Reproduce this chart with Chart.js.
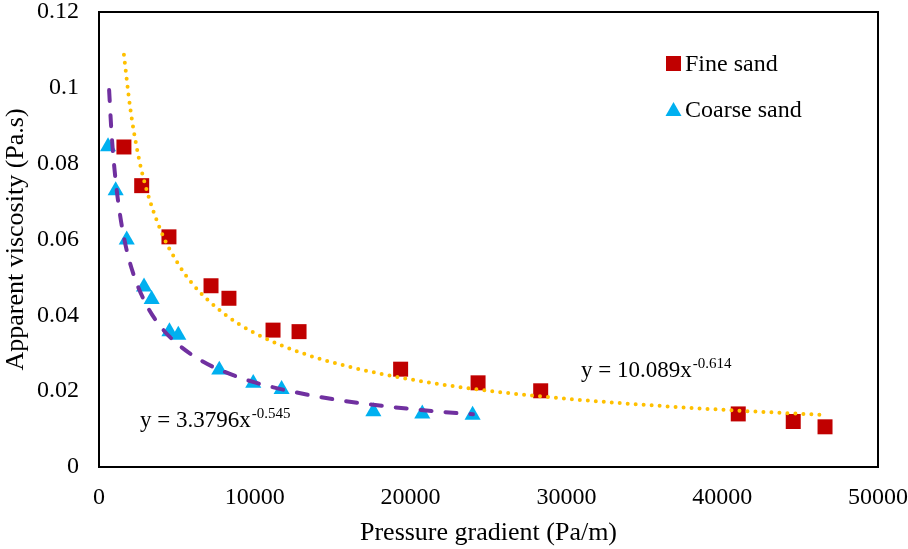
<!DOCTYPE html>
<html>
<head>
<meta charset="utf-8">
<script src="https://cdn.jsdelivr.net/npm/chart.js@4/dist/chart.umd.min.js"></script>
<style>
    html, body { margin: 0; padding: 0; background: #fff; }
    #wrap { width: 908px; height: 549px; }
</style>
</head>
<body>
<div id="wrap"><canvas id="viscChart" width="908" height="549"></canvas></div>
<script>
// measured points (Pa/m, Pa.s)
const fineX = [1600, 2740, 4490, 7190, 8340, 11170, 12840, 19360, 24330, 28350, 41030, 44560, 46600];
const fineY = [0.0844, 0.0742, 0.0607, 0.0478, 0.0445, 0.0361, 0.0357, 0.0258, 0.0222, 0.0201, 0.0140, 0.0120, 0.0106];

const coarseX = [580, 1070, 1780, 2890, 3380, 4520, 5090, 7720, 9900, 11720, 17610, 20750, 23980];
const coarseY = [0.0845, 0.0729, 0.0599, 0.0475, 0.0442, 0.0357, 0.0348, 0.0256, 0.0221, 0.0205, 0.0146, 0.0140, 0.0137];

// trend curves
const fineTrendX = [1600, 2000, 2500, 3000, 4000, 5000, 6000, 8000, 10000, 13000, 16000, 20000, 25000, 30000, 35000, 40000, 46600];
const fineTrendY = [0.1087, 0.0948, 0.0826, 0.0739, 0.0620, 0.0541, 0.0483, 0.0405, 0.0353, 0.0301, 0.0265, 0.0231, 0.0201, 0.0180, 0.0164, 0.0151, 0.0137];

const coarseTrendX = [650, 800, 1000, 1300, 1700, 2200, 3000, 4000, 5000, 6500, 8000, 10000, 12500, 15000, 18000, 21000, 24000];
const coarseTrendY = [0.0994, 0.0884, 0.0783, 0.0679, 0.0586, 0.0510, 0.0431, 0.0368, 0.0326, 0.0282, 0.0252, 0.0223, 0.0198, 0.0179, 0.0162, 0.0149, 0.0139];

const seriesNames = ["Fine sand", "Coarse sand"];
const fineEq = ["y = 10.089x", "-0.614"];
const coarseEq = ["y = 3.3796x", "-0.545"];

const serif = "'Liberation Serif', 'Times New Roman', serif";

function toPoints(xs, ys) {
    return xs.map((x, i) => ({ x: x, y: ys[i] }));
}

// legend, equations and frame
const overlay = {
    id: "overlay",
    afterDatasetsDraw(chart) {
        const ctx = chart.ctx;
        const a = chart.chartArea;
        ctx.save();

        ctx.strokeStyle = "#000";
        ctx.lineWidth = 2;
        ctx.strokeRect(a.left, a.top, a.right - a.left, a.bottom - a.top);

        // legend
        ctx.fillStyle = "#C00000";
        ctx.fillRect(666, 56, 15, 15);
        ctx.fillStyle = "#00B0F0";
        ctx.beginPath();
        ctx.moveTo(673.5, 102);
        ctx.lineTo(681.5, 116);
        ctx.lineTo(665.5, 116);
        ctx.closePath();
        ctx.fill();

        ctx.fillStyle = "#000";
        ctx.font = "24px " + serif;
        ctx.textBaseline = "alphabetic";
        ctx.fillText(seriesNames[0], 685, 71);
        ctx.fillText(seriesNames[1], 685, 117);

        // trend equations
        function eq(parts, x, y) {
            ctx.font = "23px " + serif;
            ctx.fillText(parts[0], x, y);
            const w = ctx.measureText(parts[0]).width;
            ctx.font = "15px " + serif;
            ctx.fillText(parts[1], x + w + 1, y - 9);
        }
        eq(fineEq, 581, 377);
        eq(coarseEq, 140, 427);

        ctx.restore();
    }
};

new Chart(document.getElementById("viscChart").getContext("2d"), {
    type: "scatter",
    data: {
        datasets: [
            {
                label: "fine trend",
                data: toPoints(fineTrendX, fineTrendY),
                showLine: true,
                pointRadius: 0,
                borderColor: "#FFC000",
                borderWidth: 4,
                borderDash: [0, 8],
                borderCapStyle: "round",
                cubicInterpolationMode: "monotone",
                order: 0
            },
            {
                label: "coarse trend",
                data: toPoints(coarseTrendX, coarseTrendY),
                showLine: true,
                pointRadius: 0,
                borderColor: "#7030A0",
                borderWidth: 4,
                borderDash: [11, 14],
                borderCapStyle: "round",
                cubicInterpolationMode: "monotone",
                order: 0
            },
            {
                label: seriesNames[0],
                data: toPoints(fineX, fineY),
                pointStyle: "rect",
                pointRadius: 10.6,
                pointBackgroundColor: "#C00000",
                pointBorderWidth: 0,
                order: 1
            },
            {
                label: seriesNames[1],
                data: toPoints(coarseX, coarseY),
                pointStyle: "triangle",
                pointRadius: 9.3,
                pointBackgroundColor: "#00B0F0",
                pointBorderWidth: 0,
                order: 1
            }
        ]
    },
    options: {
        responsive: false,
        animation: false,
        layout: {
            padding: { top: 12, right: 30, bottom: 0, left: 0 }
        },
        plugins: {
            legend: { display: false },
            tooltip: { enabled: false }
        },
        scales: {
            x: {
                type: "linear",
                min: 0,
                max: 50000,
                ticks: {
                    stepSize: 10000,
                    color: "#000",
                    padding: 16,
                    font: { family: serif, size: 24 },
                    callback: v => String(v)
                },
                grid: { display: false, drawTicks: false },
                border: { display: true, color: "#000", width: 2 },
                title: {
                    display: true,
                    text: "Pressure gradient (Pa/m)",
                    color: "#000",
                    font: { family: serif, size: 26 },
                    padding: 0
                },
                afterFit: s => {
                    s.height = 82;
                    s.paddingLeft = 0;
                    s.paddingRight = 30;
                }
            },
            y: {
                min: 0,
                max: 0.12,
                ticks: {
                    stepSize: 0.02,
                    color: "#000",
                    padding: 20,
                    font: { family: serif, size: 24, lineHeight: 1 },
                    callback: v => v === 0 ? "0" : String(+v.toFixed(2))
                },
                grid: { display: false, drawTicks: false },
                border: { display: true, color: "#000", width: 2 },
                title: {
                    display: true,
                    text: "Apparent viscosity (Pa.s)",
                    color: "#000",
                    font: { family: serif, size: 26 },
                    padding: { top: 1, bottom: 0 }
                },
                afterFit: s => {
                    s.width = 99;
                    s.paddingTop = 12;
                    s.paddingBottom = 0;
                }
            }
        }
    },
    plugins: [overlay]
});
</script>
</body>
</html>
